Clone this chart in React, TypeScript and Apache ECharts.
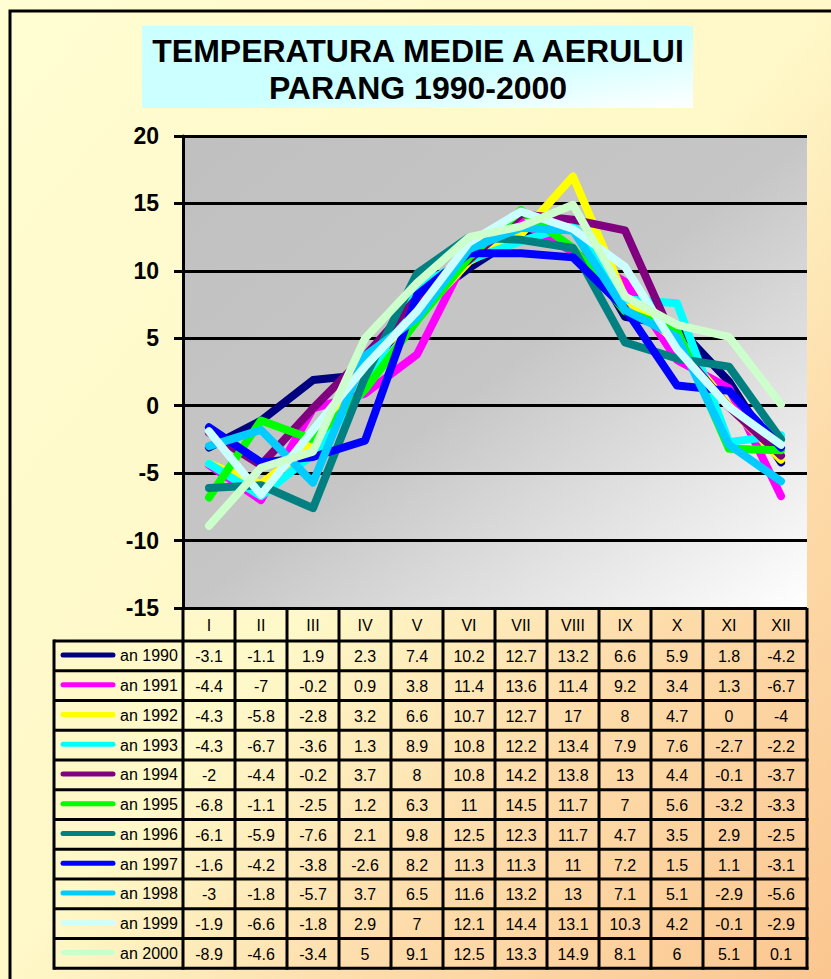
import React, { useEffect, useRef } from "react";
import * as echarts from "echarts";

const months = ["I", "II", "III", "IV", "V", "VI", "VII", "VIII", "IX", "X", "XI", "XII"];
const yearNames = ["an 1990", "an 1991", "an 1992", "an 1993", "an 1994", "an 1995", "an 1996", "an 1997", "an 1998", "an 1999", "an 2000"];
const yearColors = ["#000080", "#FF00FF", "#FFFF00", "#00FFFF", "#800080", "#00FF00", "#008080", "#0000FF", "#00CCFF", "#CCFFFF", "#CCFFCC"];

const t1990 = [-3.1, -1.1, 1.9, 2.3, 7.4, 10.2, 12.7, 13.2, 6.6, 5.9, 1.8, -4.2];
const t1991 = [-4.4, -7, -0.2, 0.9, 3.8, 11.4, 13.6, 11.4, 9.2, 3.4, 1.3, -6.7];
const t1992 = [-4.3, -5.8, -2.8, 3.2, 6.6, 10.7, 12.7, 17, 8, 4.7, 0, -4];
const t1993 = [-4.3, -6.7, -3.6, 1.3, 8.9, 10.8, 12.2, 13.4, 7.9, 7.6, -2.7, -2.2];
const t1994 = [-2, -4.4, -0.2, 3.7, 8, 10.8, 14.2, 13.8, 13, 4.4, -0.1, -3.7];
const t1995 = [-6.8, -1.1, -2.5, 1.2, 6.3, 11, 14.5, 11.7, 7, 5.6, -3.2, -3.3];
const t1996 = [-6.1, -5.9, -7.6, 2.1, 9.8, 12.5, 12.3, 11.7, 4.7, 3.5, 2.9, -2.5];
const t1997 = [-1.6, -4.2, -3.8, -2.6, 8.2, 11.3, 11.3, 11, 7.2, 1.5, 1.1, -3.1];
const t1998 = [-3, -1.8, -5.7, 3.7, 6.5, 11.6, 13.2, 13, 7.1, 5.1, -2.9, -5.6];
const t1999 = [-1.9, -6.6, -1.8, 2.9, 7, 12.1, 14.4, 13.1, 10.3, 4.2, -0.1, -2.9];
const t2000 = [-8.9, -4.6, -3.4, 5, 9.1, 12.5, 13.3, 14.9, 8.1, 6, 5.1, 0.1];
const allYears = [t1990, t1991, t1992, t1993, t1994, t1995, t1996, t1997, t1998, t1999, t2000];

const titleLines = ["TEMPERATURA MEDIE A AERULUI", "PARANG 1990-2000"];

const Y_MIN = -15;
const Y_MAX = 20;
const Y_STEP = 5;

export default function App() {
  const ref = useRef<HTMLDivElement>(null);

  useEffect(() => {
    const chart = echarts.init(ref.current!, null, { renderer: "svg" });

    const W = 831;
    const H = 979;
    const plotL = 183;
    const plotR = 807;
    const plotT = 136;
    const plotB = 608;
    const colW = (plotR - plotL) / months.length;
    const headTop = plotB;
    const headBot = 641;
    const rowH = 29.75;
    const tableBot = headBot + rowH * yearNames.length;
    const legL = 54;
    const font = "Liberation Sans, Arial, sans-serif";

    const graphics: any[] = [];

    graphics.push({
      type: "rect",
      z: -20,
      silent: true,
      shape: { x: 0, y: 0, width: W, height: H },
      style: {
        fill: new echarts.graphic.LinearGradient(0, 0, 1, 1, [
          { offset: 0, color: "#FFFDD2" },
          { offset: 0.5, color: "#FFF8C8" },
          { offset: 0.72, color: "#FDDCAA" },
          { offset: 1, color: "#FBC690" },
        ]),
      },
    });
    graphics.push({
      type: "rect",
      z: -19,
      silent: true,
      shape: { x: 10, y: 11, width: W + 20, height: H + 20 },
      style: { fill: "none", stroke: "#000", lineWidth: 3 },
    });
    graphics.push({
      type: "rect",
      z: -18,
      silent: true,
      shape: { x: plotL, y: plotT, width: plotR - plotL, height: plotB - plotT },
      style: {
        fill: new echarts.graphic.LinearGradient(0, 0, 1, 1, [
          { offset: 0, color: "#C0C0C0" },
          { offset: 0.5, color: "#C6C6C6" },
          { offset: 1, color: "#FFFFFF" },
        ]),
      },
    });
    graphics.push({
      type: "rect",
      z: -17,
      silent: true,
      shape: { x: 142, y: 26, width: 551, height: 82 },
      style: {
        fill: new echarts.graphic.LinearGradient(0, 0, 1, 1, [
          { offset: 0, color: "#CCFFFF" },
          { offset: 0.55, color: "#CCFFFF" },
          { offset: 1, color: "#FFFFFF" },
        ]),
      },
    });
    titleLines.forEach((t, i) => {
      graphics.push({
        type: "text",
        z: 5,
        silent: true,
        x: 418,
        y: i === 0 ? 51 : 88,
        style: {
          text: t,
          font: `bold 32px ${font}`,
          fill: "#000",
          align: "center",
          verticalAlign: "middle",
        },
      });
    });

    const lineStyle = { stroke: "#000", lineWidth: 3 };
    for (let k = 0; k <= months.length; k++) {
      const x = plotL + colW * k;
      graphics.push({
        type: "line",
        z: 10,
        silent: true,
        shape: { x1: x, y1: headTop, x2: x, y2: tableBot + 1.5 },
        style: lineStyle,
      });
    }
    graphics.push({
      type: "line",
      z: 10,
      silent: true,
      shape: { x1: legL, y1: headBot - 1.5, x2: legL, y2: tableBot + 1.5 },
      style: lineStyle,
    });
    for (let r = 0; r <= yearNames.length; r++) {
      const y = headBot + rowH * r;
      graphics.push({
        type: "line",
        z: 10,
        silent: true,
        shape: { x1: legL, y1: y, x2: plotR + 1.5, y2: y },
        style: lineStyle,
      });
    }
    months.forEach((m, k) => {
      graphics.push({
        type: "text",
        z: 11,
        silent: true,
        x: plotL + colW * (k + 0.5),
        y: (headTop + headBot) / 2 + 1,
        style: { text: m, font: `16px ${font}`, fill: "#000", align: "center", verticalAlign: "middle" },
      });
    });
    yearNames.forEach((yn, r) => {
      const cy = headBot + rowH * (r + 0.5);
      graphics.push({
        type: "line",
        z: 11,
        silent: true,
        shape: { x1: 63, y1: cy - 1, x2: 113, y2: cy - 1 },
        style: { stroke: yearColors[r], lineWidth: 5, lineCap: "round" },
      });
      graphics.push({
        type: "text",
        z: 11,
        silent: true,
        x: 120,
        y: cy,
        style: { text: yn, font: `16px ${font}`, fill: "#000", align: "left", verticalAlign: "middle" },
      });
      allYears[r].forEach((v, k) => {
        graphics.push({
          type: "text",
          z: 11,
          silent: true,
          x: plotL + colW * (k + 0.5),
          y: cy + 1,
          style: { text: String(v), font: `16px ${font}`, fill: "#000", align: "center", verticalAlign: "middle" },
        });
      });
    });

    const option: any = {
      animation: false,
      grid: {
        left: plotL,
        right: W - plotR,
        top: plotT,
        bottom: H - plotB,
        containLabel: false,
      },
      xAxis: {
        type: "category",
        data: months,
        boundaryGap: true,
        axisLine: { show: false },
        axisTick: { show: false },
        axisLabel: { show: false },
        splitLine: { show: false },
      },
      yAxis: {
        type: "value",
        min: Y_MIN,
        max: Y_MAX,
        interval: Y_STEP,
        axisLine: { show: true, lineStyle: { color: "#000", width: 3 } },
        axisTick: { show: true, length: 9, lineStyle: { color: "#000", width: 3 } },
        axisLabel: {
          color: "#000",
          fontFamily: font,
          fontWeight: "bold",
          fontSize: 23,
          margin: 24,
        },
        splitLine: { show: true, lineStyle: { color: "#000", width: 3 } },
      },
      series: allYears.map((d, i) => ({
        type: "line",
        name: yearNames[i],
        data: d,
        showSymbol: false,
        symbol: "none",
        z: 3,
        lineStyle: { color: yearColors[i], width: 8, cap: "round", join: "round" },
        itemStyle: { color: yearColors[i] },
      })),
      graphic: graphics,
    };

    chart.setOption(option);
    return () => chart.dispose();
  }, []);

  return (
    <div
      ref={ref}
      style={{ position: "absolute", left: 0, top: 0, width: 831, height: 979 }}
    />
  );
}
